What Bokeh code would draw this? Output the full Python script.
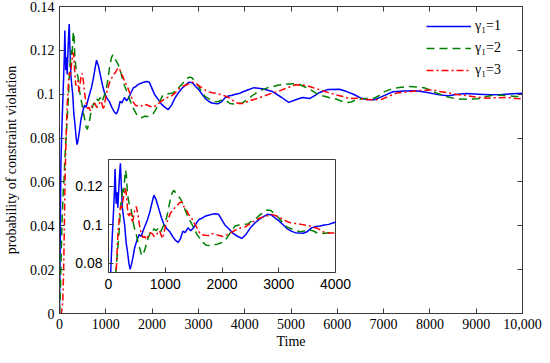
from bokeh.plotting import figure
from bokeh.models import Range1d, LinearAxis, FixedTicker, Legend, LegendItem, Column, ColumnDataSource
from bokeh.embed import file_html
from bokeh.resources import INLINE

# ---- data: (time, probability) ----
blue_pts = [(0,0.0),(10,0.02),(20,0.045),(30,0.068),(45,0.08),(60,0.09),(75,0.099),(90,0.108),(105,0.118),(115,0.129),(125,0.12),(135,0.111),(150,0.117),(165,0.109),(180,0.118),(195,0.126),(210,0.132),(225,0.121),(245,0.109),(265,0.104),(285,0.1),(310,0.091),(335,0.086),(360,0.08),(380,0.077),(400,0.079),(430,0.083),(460,0.088),(500,0.092),(540,0.095),(575,0.094),(610,0.097),(650,0.1),(690,0.103),(730,0.107),(770,0.112),(800,0.1155),(840,0.113),(880,0.109),(930,0.104),(980,0.1),(1030,0.098),(1080,0.0965),(1130,0.094),(1180,0.092),(1230,0.091),(1270,0.093),(1310,0.0968),(1350,0.096),(1400,0.0985),(1450,0.097),(1500,0.0985),(1550,0.101),(1600,0.103),(1650,0.1035),(1700,0.1045),(1760,0.105),(1820,0.1055),(1880,0.1058),(1940,0.1055),(1990,0.103),(2050,0.1),(2120,0.098),(2200,0.0955),(2280,0.094),(2350,0.093),(2420,0.095),(2500,0.0985),(2580,0.101),(2660,0.103),(2740,0.1045),(2800,0.1055),(2870,0.1052),(2940,0.1035),(3010,0.102),(3080,0.1),(3150,0.098),(3220,0.0968),(3290,0.096),(3360,0.0958),(3430,0.0957),(3500,0.0965),(3580,0.0985),(3650,0.0992),(3730,0.0995),(3800,0.1),(3880,0.1003),(3950,0.101),(4050,0.1018),(4200,0.103),(4380,0.1025),(4600,0.1012),(4800,0.0985),(4950,0.0963),(5100,0.0975),(5250,0.0985),(5400,0.098),(5520,0.0995),(5620,0.1008),(5800,0.1022),(6050,0.1023),(6200,0.1012),(6350,0.1),(6500,0.0983),(6650,0.0976),(6800,0.0975),(6950,0.0988),(7200,0.1011),(7450,0.1015),(7700,0.1016),(7950,0.1008),(8200,0.0997),(8400,0.0993),(8600,0.1),(8800,0.1003),(9050,0.1),(9300,0.0997),(9550,0.0999),(9800,0.1002),(10000,0.1004)]

green_pts = [(0,0.0),(20,0.01),(40,0.03),(60,0.045),(80,0.055),(100,0.062),(115,0.07),(130,0.076),(150,0.083),(170,0.09),(195,0.1),(215,0.11),(235,0.115),(255,0.12),(270,0.117),(285,0.124),(300,0.1285),(315,0.126),(330,0.118),(345,0.114),(370,0.11),(400,0.108),(430,0.102),(460,0.098),(490,0.095),(520,0.091),(550,0.088),(575,0.085),(600,0.084),(625,0.086),(650,0.088),(680,0.092),(710,0.094),(740,0.096),(770,0.0955),(800,0.098),(840,0.097),(880,0.0985),(920,0.0965),(960,0.099),(1000,0.101),(1040,0.106),(1080,0.112),(1120,0.1165),(1150,0.118),(1190,0.1165),(1230,0.115),(1270,0.1135),(1310,0.111),(1360,0.107),(1410,0.1035),(1460,0.101),(1510,0.098),(1560,0.095),(1610,0.093),(1660,0.091),(1720,0.0895),(1780,0.0893),(1840,0.09),(1900,0.0898),(1960,0.0905),(2020,0.091),(2080,0.093),(2150,0.096),(2230,0.0995),(2300,0.1),(2380,0.1003),(2450,0.1005),(2520,0.102),(2600,0.1035),(2680,0.1055),(2750,0.107),(2800,0.1078),(2860,0.1075),(2920,0.106),(2990,0.104),(3060,0.1015),(3140,0.099),(3220,0.098),(3300,0.097),(3380,0.0965),(3450,0.0968),(3520,0.0975),(3600,0.097),(3680,0.0958),(3760,0.0955),(3850,0.0958),(3950,0.096),(4050,0.0975),(4160,0.0993),(4280,0.101),(4380,0.102),(4500,0.103),(4620,0.1035),(4740,0.1042),(4900,0.1045),(5050,0.1048),(5150,0.1048),(5280,0.1035),(5400,0.1023),(5540,0.1005),(5680,0.0993),(5820,0.0985),(5970,0.0978),(6100,0.0968),(6200,0.0962),(6300,0.0965),(6440,0.0978),(6600,0.098),(6770,0.098),(6900,0.0993),(7020,0.1012),(7200,0.1026),(7380,0.1032),(7560,0.1035),(7750,0.1033),(7900,0.1028),(8050,0.1015),(8150,0.1005),(8350,0.099),(8580,0.0978),(8800,0.0977),(9020,0.0979),(9200,0.0988),(9380,0.0996),(9550,0.0995),(9700,0.0993),(9850,0.099),(10000,0.0988)]

red_pts = [(0,0.0),(40,0.0),(70,0.005),(90,0.02),(105,0.04),(120,0.06),(135,0.075),(150,0.085),(165,0.095),(180,0.1),(197,0.106),(215,0.11),(235,0.108),(255,0.113),(275,0.116),(295,0.119),(310,0.117),(330,0.11),(350,0.104),(375,0.106),(400,0.106),(420,0.101),(440,0.104),(465,0.108),(490,0.1095),(515,0.106),(545,0.1),(575,0.096),(605,0.0935),(635,0.094),(665,0.0925),(700,0.0945),(735,0.096),(770,0.0955),(805,0.094),(840,0.0945),(870,0.0962),(900,0.097),(930,0.0945),(955,0.093),(985,0.097),(1015,0.1005),(1050,0.103),(1090,0.106),(1130,0.1075),(1170,0.109),(1210,0.11),(1250,0.1115),(1290,0.112),(1330,0.1095),(1370,0.108),(1410,0.1055),(1460,0.104),(1500,0.1015),(1550,0.099),(1590,0.0965),(1640,0.095),(1700,0.0946),(1760,0.0945),(1820,0.0955),(1880,0.0952),(1950,0.0945),(2020,0.094),(2090,0.095),(2170,0.0963),(2250,0.0975),(2330,0.0985),(2410,0.099),(2490,0.1005),(2580,0.1024),(2660,0.1035),(2730,0.1042),(2800,0.1048),(2870,0.1055),(2950,0.1048),(3040,0.1035),(3120,0.1022),(3200,0.1012),(3300,0.1007),(3400,0.1003),(3500,0.0998),(3600,0.099),(3700,0.098),(3780,0.0965),(3870,0.0958),(3970,0.0958),(4080,0.0968),(4230,0.0978),(4400,0.099),(4590,0.1005),(4750,0.1015),(4880,0.1026),(5000,0.1035),(5100,0.1043),(5250,0.1042),(5400,0.1035),(5550,0.1025),(5700,0.1015),(5850,0.1005),(5980,0.0997),(6120,0.099),(6260,0.098),(6420,0.0982),(6600,0.0976),(6800,0.0975),(6950,0.0976),(7100,0.099),(7280,0.1005),(7500,0.101),(7710,0.1016),(7900,0.1018),(8070,0.102),(8220,0.1012),(8360,0.1007),(8580,0.0999),(8800,0.0993),(9000,0.0987),(9230,0.0982),(9450,0.0984),(9670,0.0985),(9850,0.0981),(10000,0.0978)]

series_labels = ["\u03b3\u2081=1", "\u03b3\u2081=2", "\u03b3\u2081=3"]
x_ticks = [0, 1000, 2000, 3000, 4000, 5000, 6000, 7000, 8000, 9000, 10000]
x_tick_labels = ["0", "1000", "2000", "3000", "4000", "5000", "6000", "7000", "8000", "9000", "10,000"]
y_ticks = [0, 0.02, 0.04, 0.06, 0.08, 0.1, 0.12, 0.14]
y_tick_labels = ["0", "0.02", "0.04", "0.06", "0.08", "0.1", "0.12", "0.14"]
inset_x_ticks = [0, 1000, 2000, 3000, 4000]
inset_x_labels = ["0", "1000", "2000", "3000", "4000"]
inset_y_ticks = [0.08, 0.1, 0.12]
inset_y_labels = ["0.08", "0.1", "0.12"]

colors = ["#0000ff", "#008000", "#ff0000"]
dashes = ["solid", "8 5", "7 3 2 3"]
AX = "#3a3a3a"
SERIF = "Liberation Serif"
SANS = "Liberation Sans"


def src(pts, tmax=None):
    pts = [p for p in pts if tmax is None or p[0] <= tmax]
    return ColumnDataSource(dict(t=[p[0] for p in pts], y=[p[1] for p in pts]))


def style_axis(ax, font, size, ticks, labels, show_labels=True):
    ax.ticker = FixedTicker(ticks=ticks)
    ax.major_label_overrides = {k: v for k, v in zip(ticks, labels)}
    ax.axis_line_color = AX
    ax.major_tick_line_color = AX
    ax.major_tick_in = 5
    ax.major_tick_out = 0
    ax.minor_tick_in = 0
    ax.minor_tick_out = 0
    ax.minor_tick_line_color = None
    ax.major_label_text_font = font
    ax.major_label_text_font_size = size
    ax.major_label_text_color = "black"
    if not show_labels:
        ax.major_label_text_font_size = "0px"
        ax.major_label_standoff = 0


p = figure(width=542, height=352, x_range=Range1d(0, 10000), y_range=Range1d(0, 0.14),
           output_backend="svg", toolbar_location=None,
           min_border_left=59, min_border_right=11, min_border_top=6, min_border_bottom=39)
p.xgrid.visible = False
p.ygrid.visible = False
p.outline_line_color = AX
p.background_fill_color = "white"
p.border_fill_color = "white"

style_axis(p.xaxis[0], SERIF, "14px", x_ticks, x_tick_labels)
style_axis(p.yaxis[0], SERIF, "14px", y_ticks, y_tick_labels)
p.xaxis.major_label_standoff = 5
p.yaxis.major_label_standoff = 5
p.xaxis.axis_label = "Time"
p.yaxis.axis_label = "probability of constraint violation"
for ax in (p.xaxis[0], p.yaxis[0]):
    ax.axis_label_text_font = SERIF
    ax.axis_label_text_font_size = "14px"
    ax.axis_label_text_font_style = "normal"
    ax.axis_label_text_color = "black"
p.xaxis.axis_label_standoff = 2
p.yaxis.axis_label_standoff = 8

top = LinearAxis()
style_axis(top, SERIF, "14px", x_ticks, [""] * len(x_ticks), show_labels=False)
p.add_layout(top, "above")
right = LinearAxis()
style_axis(right, SERIF, "14px", y_ticks, [""] * len(y_ticks), show_labels=False)
p.add_layout(right, "right")

renderers = []
for pts, c, d in zip([blue_pts, green_pts, red_pts], colors, dashes):
    r = p.line("t", "y", source=src(pts), line_color=c, line_width=1.5, line_dash=d)
    renderers.append(r)

legend = Legend(items=[LegendItem(label=l, renderers=[r]) for l, r in zip(series_labels, renderers)],
                location=(367, 233), padding=0, margin=0, spacing=2,
                glyph_width=45, glyph_height=20, label_height=20, label_standoff=4,
                label_text_font=SERIF, label_text_font_size="14px", label_text_color="black",
                border_line_alpha=0, background_fill_alpha=0)
p.add_layout(legend)

# ---- inset ----
ins = figure(width=306, height=145, x_range=Range1d(0, 4000), y_range=Range1d(0.0753, 0.134),
             output_backend="svg", toolbar_location=None,
             min_border_left=40, min_border_right=20, min_border_top=2, min_border_bottom=30,
             styles={"position": "absolute", "left": "49px", "top": "157px"})
ins.xgrid.visible = False
ins.ygrid.visible = False
ins.outline_line_color = AX
ins.background_fill_color = "white"
ins.border_fill_alpha = 0
style_axis(ins.xaxis[0], SANS, "14px", inset_x_ticks, inset_x_labels)
style_axis(ins.yaxis[0], SANS, "14px", inset_y_ticks, inset_y_labels)
ins.xaxis.major_label_standoff = 6
ins.yaxis.major_label_standoff = 6
for pts, c, d in zip([blue_pts, green_pts, red_pts], colors, dashes):
    ins.line("t", "y", source=src(pts, 4100), line_color=c, line_width=1.5, line_dash=d)

root = Column(children=[p, ins], spacing=0)
open("out.html", "w").write(file_html(root, INLINE))
